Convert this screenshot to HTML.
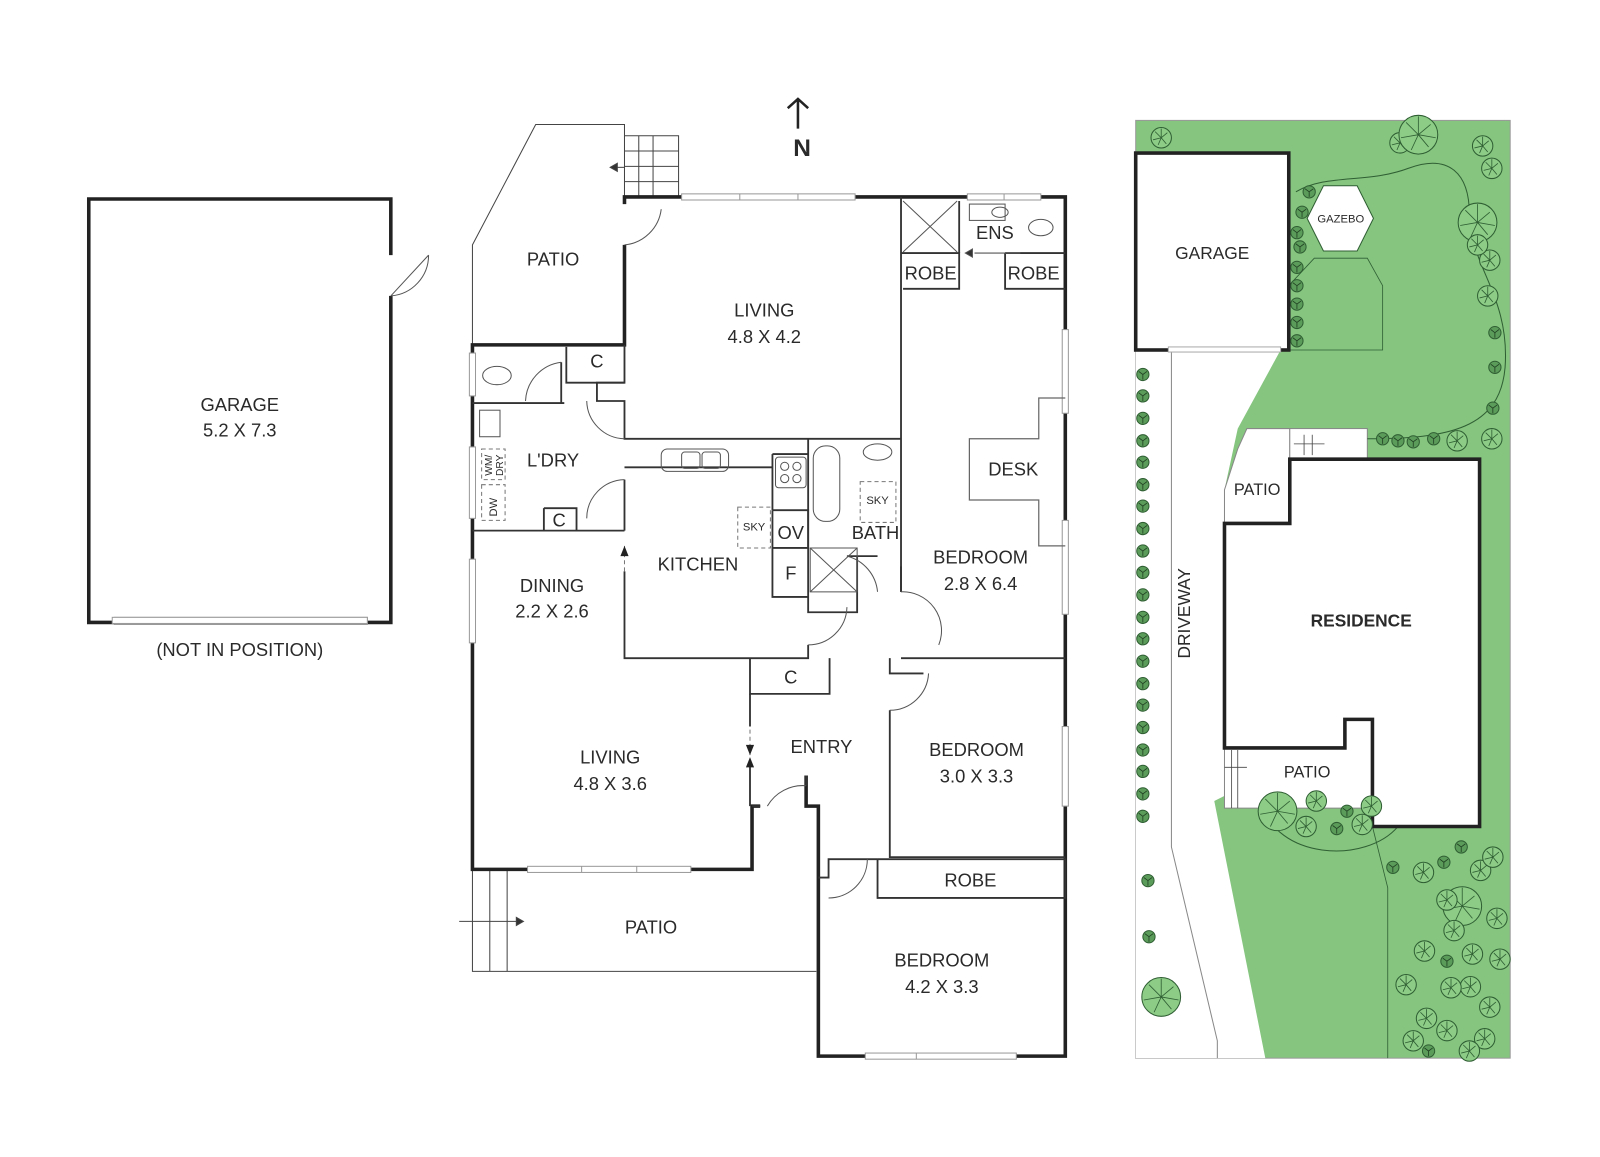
<!DOCTYPE html>
<html><head><meta charset="utf-8"><style>
html,body{margin:0;padding:0;background:#fff;}
svg{display:block;}
text{font-family:"Liberation Sans",sans-serif;fill:#2a2a2a;}
</style></head><body>
<svg width="1600" height="1157" viewBox="0 0 1600 1157" xmlns="http://www.w3.org/2000/svg">
<defs>
<g id="tr"><circle r="10" fill="#8ccc86" stroke="#2f5e33" stroke-width="1"/><path d="M0,0 L-6,-6 M0,0 L6,-5 M0,0 L-3,7 M0,0 L5,6 M0,0 L0,-9 M0,0 L-8,2" stroke="#2f5e33" stroke-width="0.8"/></g>
<g id="sm"><circle r="6" fill="#5c9c5a" stroke="#2f5e33" stroke-width="1"/><path d="M0,0 L-4,-3 M0,0 L4,-3 M0,0 L0,5" stroke="#1f3f22" stroke-width="0.8"/></g>
<g id="bg"><circle r="19" fill="#8ccc86" stroke="#2f5e33" stroke-width="1"/><path d="M0,0 L-12,-12 M0,0 L12,-10 M0,0 L-7,15 M0,0 L10,12 M0,0 L0,-18 M0,0 L-17,3 M0,0 L17,3" stroke="#2f5e33" stroke-width="0.8"/></g>
</defs>
<g transform="scale(1.0204)">

<!-- Left garage -->
<g fill="none" stroke="#222">
<path d="M112,610 L87,610 L87,195 L383,195 L383,250 M383,290 L383,610 L360,610" stroke-width="3.5"/>
<rect x="112" y="605" width="248" height="7" fill="#fff" stroke="#999" stroke-width="1"/>
<path d="M383,290 L420,250 M383,290 A40,40 0 0 0 420,250" stroke-width="1" stroke="#555"/>
</g>
<text x="235" y="403" font-size="18" text-anchor="middle">GARAGE</text>
<text x="235" y="428" font-size="18" text-anchor="middle">5.2 X 7.3</text>
<text x="235" y="643" font-size="18" text-anchor="middle">(NOT IN POSITION)</text>

<!-- North arrow -->
<path d="M782,126 L782,98 M772,106 L782,97 L792,106" stroke="#222" stroke-width="2.5" fill="none"/>
<text x="786" y="153" font-size="24" font-weight="bold" text-anchor="middle">N</text>

<!-- Main plan -->
<g fill="none" stroke="#444" stroke-width="1">
<path d="M463,338 L463,240 L525,122 L612,122 L612,193"/>
<path d="M612,133 L665,133 L665,193 M612,148 L665,148 M612,163 L665,163 M612,178 L665,178 M626,133 L626,193 M640,133 L640,193"/>
<path d="M612,164 L600,164" /><path d="M598,164 L605,160 L605,168Z" fill="#333"/>
<path d="M463,852 L463,952 L800,952"/>
<path d="M480,852 L480,952 M497,852 L497,952 M450,903 L510,903"/><path d="M513,903 L506,899 L506,907Z" fill="#333"/>
</g>

<g fill="none" stroke="#222" stroke-width="3.5">
<path d="M612,240 L612,338 L463,338 L463,852 L737,852 L737,790 L745,790"/>
<path d="M612,200 L612,193 L1044,193 L1044,1035 L802,1035 L802,790 L790,790 L790,760"/>
</g>
<g fill="#fff" stroke="#999" stroke-width="1">
<rect x="668" y="190" width="170" height="6"/><rect x="948" y="190" width="72" height="6"/>
<rect x="517" y="849" width="160" height="6"/><rect x="848" y="1032" width="148" height="6"/>
<rect x="460" y="346" width="6" height="42"/><rect x="460" y="438" width="6" height="70"/><rect x="460" y="548" width="6" height="82"/>
<rect x="1041" y="323" width="6" height="82"/><rect x="1041" y="510" width="6" height="92"/><rect x="1041" y="712" width="6" height="78"/>
<rect x="110" y="605" width="250" height="6"/>
</g>
<g stroke="#999" stroke-width="1"><path d="M725,190 V196 M782,190 V196 M984,190 V196 M570,849 V855 M624,849 V855 M898,1032 V1038"/></g>

<g fill="none" stroke="#333" stroke-width="1.8">
<path d="M612,338 L612,375 L585,375 L585,393 L612,393 L612,430 L883,430"/>
<path d="M883,193 L883,580 M883,645 L1044,645"/>
<path d="M612,470 L612,520 M612,560 L612,645 L792,645 L792,632"/>
<path d="M463,395 L553,395 M550,355 L550,395 M555,340 L555,375 L612,375"/>
<path d="M463,520 L612,520"/>
<path d="M533,498 L565,498 L565,520 M533,498 L533,520"/>
<path d="M735,645 L735,680 L813,680 L813,645"/>
<path d="M735,680 L735,712 M735,750 L735,790"/>
<path d="M872,645 L872,660 L905,660 M872,696 L872,840 L1044,840 M860,842 L1044,842 L1044,880 L860,880 L860,842"/>
<path d="M802,860 L812,860 L812,842 L860,842"/>
<path d="M790,760 L790,770 M745,790 L737,790"/>
<path d="M792,430 L792,600 L840,600 L840,545 M830,545 L860,545 M883,580 L883,555"/>
<path d="M757,445 L792,445 M757,500 L792,500 L792,537 L757,537 L757,500 M757,537 L757,585 L792,585"/>
<path d="M757,445 L757,500"/>
<path d="M612,458 L757,458"/>
<path d="M883,248 L940,248 L940,283 L885,283"/>
<path d="M985,248 L1044,248 M985,248 L985,283 L1044,283"/>
<path d="M940,197 L940,248"/>
</g>
<g fill="none" stroke="#666" stroke-width="1.2">
<path d="M1044,390 L1018,390 L1018,430 L950,430 L950,490 L1018,490 L1018,535 L1044,535"/>
</g>
<g fill="none" stroke="#555" stroke-width="1">
<path d="M885,197 L938,247 M938,197 L885,247"/>
<path d="M794,537 L840,580 M840,537 L794,580 M794,537 H840 V580 H794Z"/>
<path d="M1000,248 L955,248"/><path d="M946,248 L953,244 L953,252Z" fill="#333"/>
<path d="M612,240 A40,40 0 0 0 648,205"/>
<path d="M550,355 A40,40 0 0 0 515,393"/>
<path d="M612,430 A38,38 0 0 1 575,393"/>
<path d="M612,470 A38,38 0 0 0 575,508"/>
<path d="M792,632 A38,38 0 0 0 830,595"/>
<path d="M883,580 A38,38 0 0 1 920,632"/>
<path d="M872,696 A38,38 0 0 0 910,660"/>
<path d="M790,770 A40,40 0 0 0 752,790"/>
<path d="M812,880 A38,38 0 0 0 850,842"/>
<path d="M830,545 A40,40 0 0 1 860,580"/>
<ellipse cx="487" cy="368" rx="14" ry="9"/>
<rect x="470" y="402" width="20" height="26"/>
<rect x="648" y="440" width="66" height="22" rx="6"/><rect x="668" y="443" width="18" height="16" rx="3"/><rect x="688" y="443" width="18" height="16" rx="3"/>
<rect x="760" y="448" width="30" height="30" rx="3"/>
<circle cx="769" cy="457" r="4"/><circle cx="781" cy="457" r="4"/><circle cx="769" cy="469" r="4"/><circle cx="781" cy="469" r="4"/>
<rect x="797" y="437" width="26" height="74" rx="12"/>
<ellipse cx="860" cy="443" rx="14" ry="8"/>
<rect x="950" y="200" width="35" height="16"/><ellipse cx="980" cy="208" rx="8" ry="5"/>
<ellipse cx="1020" cy="223" rx="12" ry="8"/>
</g>
<g fill="none" stroke="#777" stroke-width="1" stroke-dasharray="4,3">
<rect x="472" y="440" width="23" height="30"/><rect x="472" y="475" width="23" height="35"/>
<rect x="723" y="497" width="32" height="40"/><rect x="843" y="472" width="35" height="40"/>
<path d="M612,535 L612,560 M735,715 L735,750"/>
</g>
<path d="M612,535 L608,545 L616,545Z M735,740 L731,730 L739,730Z M735,742 L731,752 L739,752Z" fill="#222"/>

<g font-size="18" text-anchor="middle">
<text x="542" y="260">PATIO</text>
<text x="749" y="310">LIVING</text><text x="749" y="336">4.8 X 4.2</text>
<text x="585" y="360">C</text>
<text x="542" y="457">L'DRY</text>
<text x="548" y="516">C</text>
<text x="541" y="580">DINING</text><text x="541" y="605">2.2 X 2.6</text>
<text x="684" y="559">KITCHEN</text>
<text x="775" y="528">OV</text><text x="775" y="568">F</text>
<text x="858" y="528">BATH</text>
<text x="975" y="234">ENS</text>
<text x="912" y="274">ROBE</text><text x="1013" y="274">ROBE</text>
<text x="993" y="466">DESK</text>
<text x="961" y="552">BEDROOM</text><text x="961" y="578">2.8 X 6.4</text>
<text x="775" y="670">C</text>
<text x="805" y="738">ENTRY</text>
<text x="598" y="748">LIVING</text><text x="598" y="774">4.8 X 3.6</text>
<text x="957" y="741">BEDROOM</text><text x="957" y="767">3.0 X 3.3</text>
<text x="951" y="869">ROBE</text>
<text x="638" y="915">PATIO</text>
<text x="923" y="947">BEDROOM</text><text x="923" y="973">4.2 X 3.3</text>
</g>
<g font-size="11" text-anchor="middle">
<text x="739" y="520">SKY</text><text x="860" y="494">SKY</text>
<text transform="translate(487,497) rotate(-90)">DW</text>
<text transform="translate(482,456) rotate(-90)" font-size="10">WM/</text>
<text transform="translate(493,456) rotate(-90)" font-size="10">DRY</text>
</g>

<!-- Site plan -->
<rect x="1113" y="118" width="367" height="919" fill="#85c57f" stroke="#999" stroke-width="1"/>
<path d="M1113,343 L1255,343 L1213,420 L1200,480 L1200,780 L1190,785 L1240,1037 L1113,1037Z" fill="#fff"/>
<path d="M1148,343 L1148,830 L1193,1020 L1193,1037" fill="none" stroke="#888" stroke-width="1"/>
<path d="M1222,420 L1264,420 L1264,513 L1200,513 L1200,480 L1213,440Z" fill="#fff" stroke="#888" stroke-width="1"/>
<rect x="1264" y="420" width="76" height="30" fill="#fff" stroke="#888" stroke-width="1"/>
<path d="M1200,733 L1318,733 L1318,705 L1345,705 L1345,792 L1200,792Z" fill="#fff" stroke="#888" stroke-width="1"/>
<path d="M1240,792 A70,48 0 0 0 1370,810" fill="none" stroke="#2f5e33" stroke-width="1"/>
<path d="M1345,810 L1360,870 L1360,1037" fill="none" stroke="#2f5e33" stroke-width="0.8"/>
<path d="M1270,188 C1300,170 1340,180 1380,165 C1420,150 1440,170 1440,210 C1440,260 1480,290 1475,360 C1470,420 1420,430 1340,430" fill="none" stroke="#2f5e33" stroke-width="1"/>
<path d="M1288,253 L1340,253 L1355,280 L1355,343 L1263,343 L1263,280Z" fill="#85c57f" stroke="#2f5e33" stroke-width="0.8"/>
<polygon points="1297,182 1330,182 1346,214 1330,246 1297,246 1281,214" fill="#fff" stroke="#2f5e33" stroke-width="1"/>
<rect x="1113" y="150" width="150" height="193" fill="#fff" stroke="#222" stroke-width="3.5"/>
<rect x="1145" y="340" width="110" height="5" fill="#fff" stroke="#aaa"/>
<polygon points="1264,450 1450,450 1450,810 1345,810 1345,705 1318,705 1318,733 1200,733 1200,513 1264,513" fill="#fff" stroke="#222" stroke-width="3.5"/>
<g fill="none" stroke="#444" stroke-width="0.8"><path d="M1268,435 L1298,435 M1278,426 V446 M1286,426 V446 M1200,752 L1222,752 M1207,735 V792 M1213,735 V792"/></g>

<text x="1188" y="254" font-size="17" text-anchor="middle">GARAGE</text>
<text x="1314" y="218" font-size="11" text-anchor="middle">GAZEBO</text>
<text x="1232" y="485" font-size="16" text-anchor="middle">PATIO</text>
<text x="1281" y="762" font-size="16" text-anchor="middle">PATIO</text>
<text x="1334" y="614" font-size="17" font-weight="bold" text-anchor="middle">RESIDENCE</text>
<text transform="translate(1166,601) rotate(-90)" font-size="17" text-anchor="middle">DRIVEWAY</text>

<g>
<use href="#sm" x="1120" y="367"/><use href="#sm" x="1120" y="388"/><use href="#sm" x="1120" y="410"/><use href="#sm" x="1120" y="432"/><use href="#sm" x="1120" y="453"/><use href="#sm" x="1120" y="475"/><use href="#sm" x="1120" y="496"/><use href="#sm" x="1120" y="518"/><use href="#sm" x="1120" y="540"/><use href="#sm" x="1120" y="561"/><use href="#sm" x="1120" y="583"/><use href="#sm" x="1120" y="605"/><use href="#sm" x="1120" y="626"/><use href="#sm" x="1120" y="648"/><use href="#sm" x="1120" y="670"/><use href="#sm" x="1120" y="691"/><use href="#sm" x="1120" y="713"/><use href="#sm" x="1120" y="735"/><use href="#sm" x="1120" y="756"/><use href="#sm" x="1120" y="778"/><use href="#sm" x="1120" y="800"/>
<use href="#sm" x="1125" y="863"/><use href="#sm" x="1126" y="918"/>
<use href="#bg" x="1138" y="977"/>
<use href="#tr" x="1138" y="135"/><use href="#tr" x="1372" y="140"/><use href="#bg" x="1390" y="132"/><use href="#tr" x="1453" y="143"/>
<use href="#sm" x="1283" y="188"/><use href="#sm" x="1276" y="208"/><use href="#sm" x="1271" y="228"/><use href="#sm" x="1274" y="242"/><use href="#sm" x="1271" y="262"/><use href="#sm" x="1271" y="280"/><use href="#sm" x="1271" y="298"/><use href="#sm" x="1271" y="316"/><use href="#sm" x="1271" y="334"/>
<use href="#tr" x="1462" y="165"/><use href="#bg" x="1448" y="218"/><use href="#tr" x="1460" y="255"/><use href="#tr" x="1458" y="290"/><use href="#sm" x="1465" y="326"/><use href="#sm" x="1465" y="360"/><use href="#sm" x="1463" y="400"/>
<use href="#tr" x="1462" y="430"/><use href="#tr" x="1428" y="432"/><use href="#sm" x="1405" y="430"/><use href="#sm" x="1385" y="433"/><use href="#sm" x="1370" y="432"/><use href="#sm" x="1355" y="430"/><use href="#tr" x="1448" y="240"/>
<use href="#bg" x="1252" y="795"/><use href="#tr" x="1280" y="810"/><use href="#tr" x="1290" y="785"/><use href="#sm" x="1310" y="812"/><use href="#tr" x="1335" y="808"/><use href="#sm" x="1320" y="795"/><use href="#tr" x="1344" y="790"/>
<use href="#tr" x="1395" y="855"/><use href="#sm" x="1415" y="845"/><use href="#tr" x="1451" y="853"/><use href="#sm" x="1432" y="830"/><use href="#bg" x="1433" y="888"/><use href="#tr" x="1463" y="840"/>
<use href="#tr" x="1418" y="882"/><use href="#tr" x="1425" y="912"/><use href="#tr" x="1396" y="932"/><use href="#sm" x="1418" y="942"/><use href="#tr" x="1443" y="935"/><use href="#tr" x="1467" y="900"/>
<use href="#tr" x="1441" y="967"/><use href="#tr" x="1460" y="987"/><use href="#tr" x="1422" y="968"/><use href="#tr" x="1398" y="998"/><use href="#tr" x="1418" y="1010"/><use href="#tr" x="1455" y="1018"/><use href="#tr" x="1470" y="940"/><use href="#tr" x="1385" y="1020"/><use href="#sm" x="1400" y="1030"/><use href="#tr" x="1440" y="1030"/><use href="#sm" x="1365" y="850"/><use href="#tr" x="1378" y="965"/>
</g>
</g>
</svg>
</body></html>
